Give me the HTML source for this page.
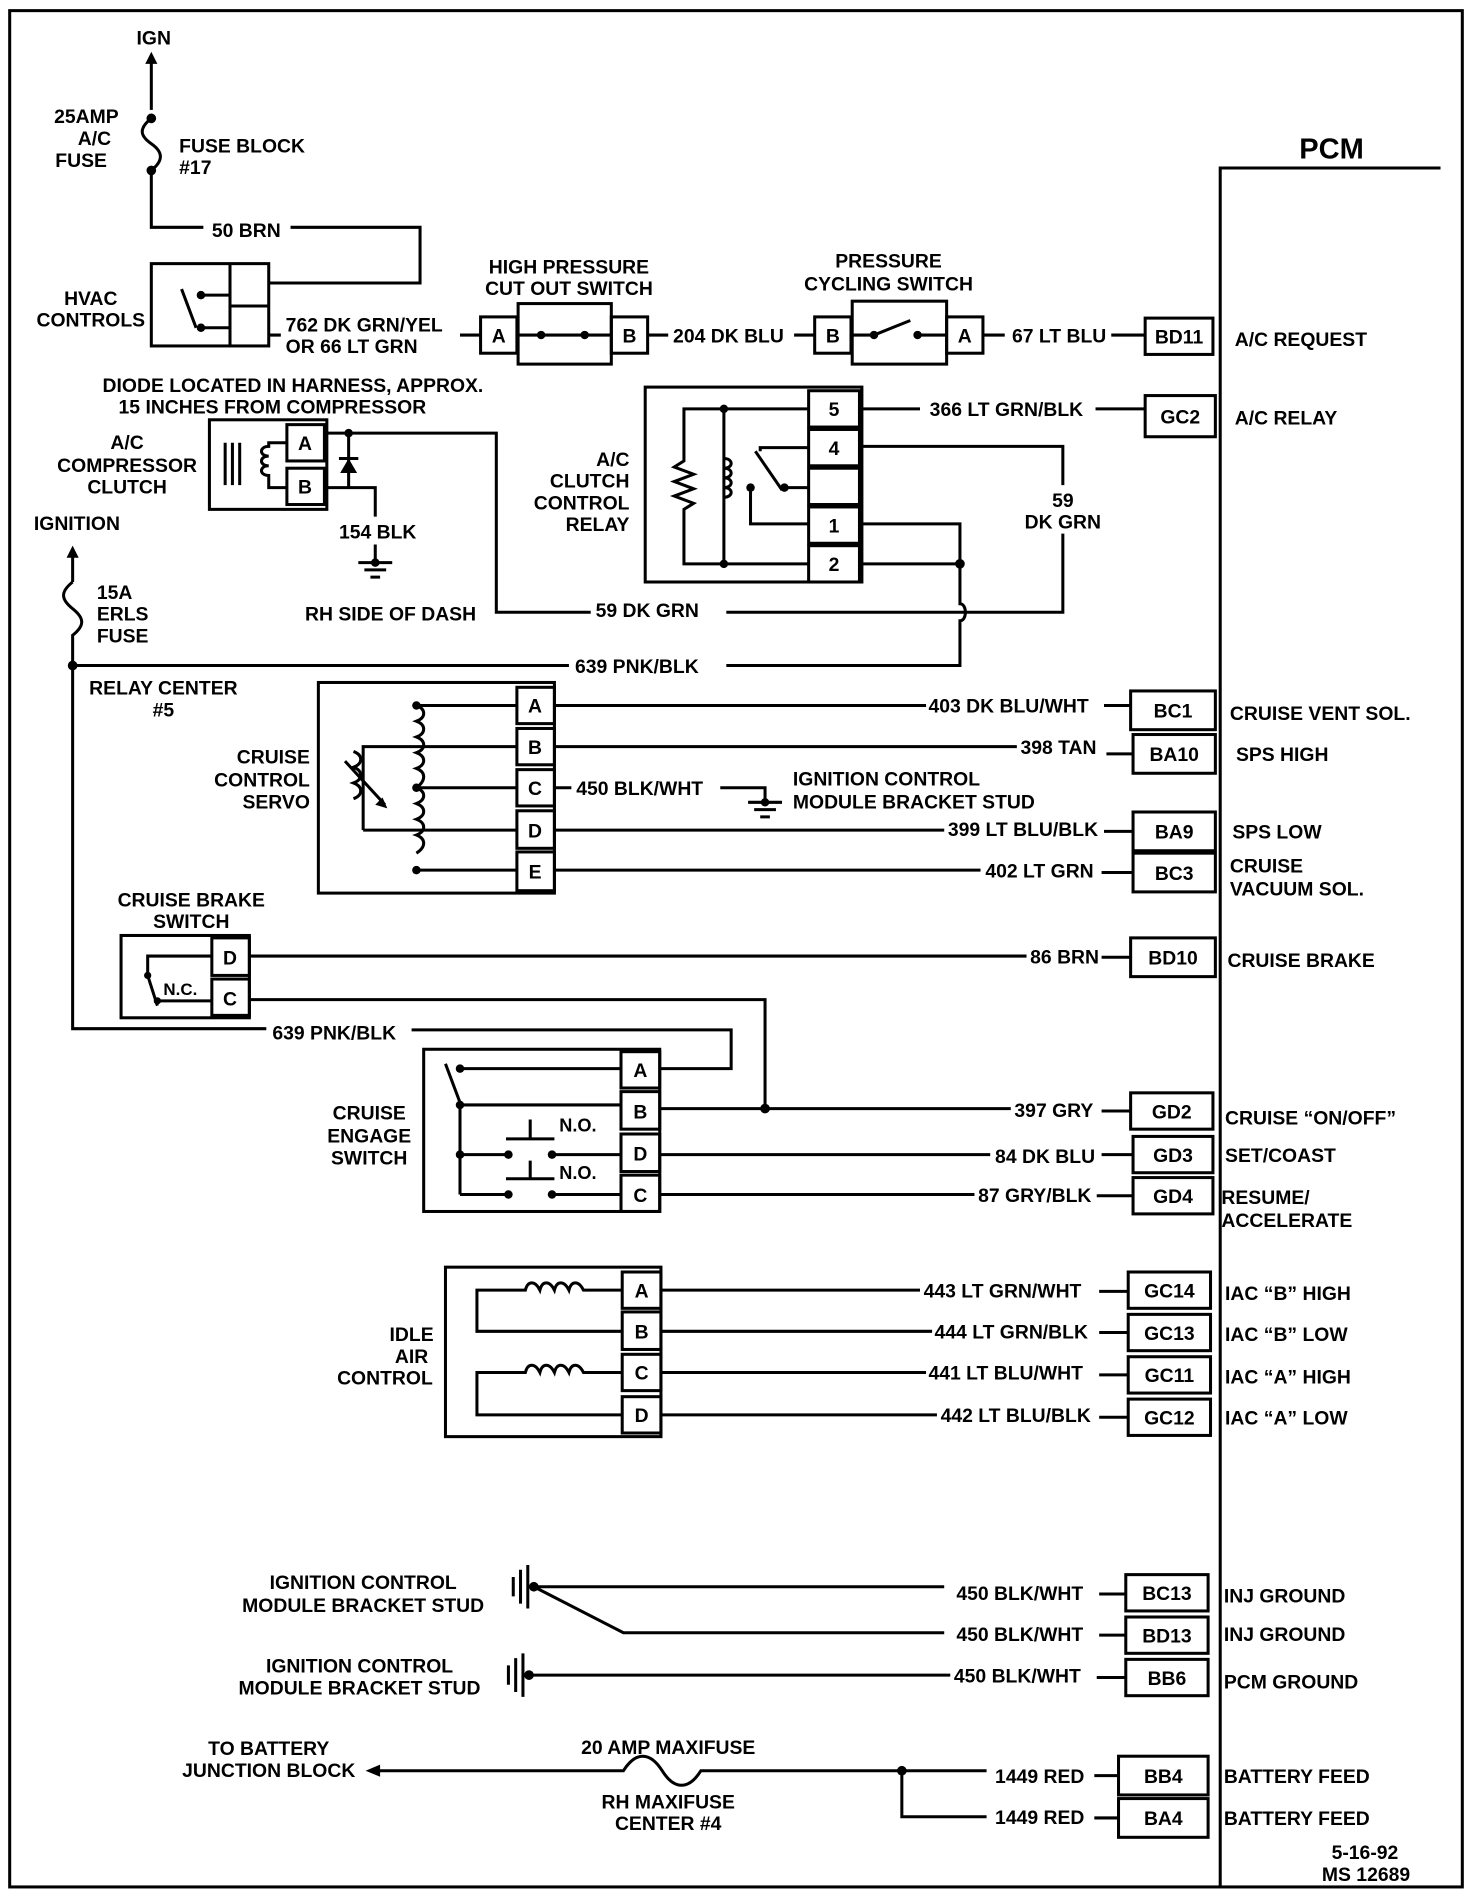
<!DOCTYPE html>
<html><head><meta charset="utf-8"><style>
html,body{margin:0;padding:0;background:#fff;}
svg{display:block;}
text{font-family:"Liberation Sans",sans-serif;font-weight:bold;font-size:16px;fill:#000;}
.m{text-anchor:middle}.e{text-anchor:end}
line,path,rect,polyline{stroke:#000;stroke-width:2.5;fill:none;}
.d{fill:#000;stroke:none}
</style></head><body>
<svg width="1472" height="1900" viewBox="0 0 1216 1568" xmlns="http://www.w3.org/2000/svg">
<rect x="8" y="8" width="1200" height="1550" stroke-width="3"/>
<!-- PCM -->
<path d="M1008 1558 V138 H1190" stroke-width="3"/>
<text x="1100" y="130" class="m" style="font-size:24px">PCM</text>

<!-- top fuse -->
<text x="127" y="36" class="m">IGN</text>
<path d="M125 90 V48"/><path class="d" d="M125 42 l-5 10 h10z"/>
<circle class="d" cx="125" cy="97" r="4"/><circle class="d" cx="125" cy="140" r="4"/>
<path d="M125 97 c-10 8 -10 14 0 21 c10 7 10 14 0 22"/>
<text x="98" y="101" class="e">25AMP</text><text x="78" y="119" class="m">A/C</text><text x="67" y="137" class="m">FUSE</text>
<text x="148" y="125">FUSE BLOCK</text><text x="148" y="143">#17</text>
<path d="M125 140 V187 H168"/><text x="175" y="195">50 BRN</text><path d="M240 187 H347 V233 H222"/>
<!-- HVAC -->
<rect x="125" y="217" width="97" height="68"/><path d="M190 217 V285 M190 252 H222"/>
<circle class="d" cx="166" cy="243" r="3.5"/><circle class="d" cx="166" cy="270" r="3.5"/>
<path d="M166 243 H190 M166 270 H190 M150 238 L162 270"/>
<text x="75" y="251" class="m">HVAC</text><text x="75" y="269" class="m">CONTROLS</text>
<text x="236" y="273">762 DK GRN/YEL</text><text x="236" y="291">OR 66 LT GRN</text>
<path d="M222 276 H232 M380 276 H397"/>
<!-- high pressure -->
<text x="470" y="225" class="m">HIGH PRESSURE</text><text x="470" y="243" class="m">CUT OUT SWITCH</text>
<rect x="397" y="261" width="30" height="30"/><text x="412" y="282" class="m">A</text>
<rect x="428" y="250" width="77" height="50"/>
<rect x="505" y="261" width="30" height="30"/><text x="520" y="282" class="m">B</text>
<path d="M427 276 H447 M483 276 H505 M447 276 L483 276"/><circle class="d" cx="447" cy="276" r="3.5"/><circle class="d" cx="483" cy="276" r="3.5"/>
<path d="M535 276 H552"/><text x="556" y="282">204 DK BLU</text><path d="M656 276 H673"/>
<text x="734" y="220" class="m">PRESSURE</text><text x="734" y="239" class="m">CYCLING SWITCH</text>
<rect x="673" y="261" width="30" height="30"/><text x="688" y="282" class="m">B</text>
<rect x="704" y="248" width="78" height="52"/>
<rect x="782" y="261" width="30" height="30"/><text x="797" y="282" class="m">A</text>
<path d="M703 276 H722 L752 264 M758 276 H782"/><circle class="d" cx="722" cy="276" r="3.5"/><circle class="d" cx="758" cy="276" r="3.5"/>
<path d="M812 276 H830"/><text x="836" y="282">67 LT BLU</text><path d="M918 276 H946"/>
<rect x="946" y="262" width="56" height="30"/><text x="974" y="283" class="m">BD11</text>
<text x="1020" y="285">A/C REQUEST</text>
<!-- compressor -->
<text x="242" y="323" class="m">DIODE LOCATED IN HARNESS, APPROX.</text><text x="225" y="341" class="m">15 INCHES FROM COMPRESSOR</text>
<rect x="173" y="346" width="97" height="74"/>
<rect x="237" y="350" width="31" height="30"/><text x="252" y="371" class="m">A</text>
<rect x="237" y="386" width="31" height="30"/><text x="252" y="407" class="m">B</text>
<path d="M186 365 V400 M192 365 V400 M198 365 V400"/>
<path d="M237 365 H222 V368 c-8 0 -8 8 0 8 c-8 0 -8 8 0 8 c-8 0 -8 8 0 8 V402 H237"/>
<text x="105" y="370" class="m">A/C</text><text x="105" y="389" class="m">COMPRESSOR</text><text x="105" y="407" class="m">CLUTCH</text>
<path d="M268 357 H410 V505 H488"/><circle class="d" cx="288" cy="357" r="3.5"/>
<path d="M288 357 V402"/><path class="d" d="M288 378 l-7 12 h14z"/><path d="M280 378 H296"/>
<path d="M268 402 H310 V426 M310 449 V462"/>
<text x="280" y="444">154 BLK</text>
<path d="M296 464 H324 M301 470 H319 M306 476 H314"/><circle class="d" cx="310" cy="464" r="3.5"/>
<text x="252" y="512">RH SIDE OF DASH</text>
<text x="492" y="509">59 DK GRN</text><path d="M600 505 H878 V440"/>
<text x="878" y="418" class="m">59</text><text x="878" y="436" class="m">DK GRN</text>
<!-- relay -->
<rect x="533" y="319" width="179" height="161"/>
<rect x="668" y="322" width="42" height="30"/><text x="689" y="343" class="m">5</text>
<rect x="668" y="354" width="42" height="30"/><text x="689" y="375" class="m">4</text>
<rect x="668" y="386" width="42" height="30"/>
<rect x="668" y="418" width="42" height="30"/><text x="689" y="439" class="m">1</text>
<rect x="668" y="450" width="42" height="30"/><text x="689" y="471" class="m">2</text>
<path d="M668 337 H598 V465 H668 M598 337 H565 V380 l-8 5 l16 6 l-16 6 l16 6 l-16 6 l16 6 l-8 5 V465 H598"/>
<path d="M598 378 c8 0 8 8 0 8 c8 0 8 8 0 8 c8 0 8 8 0 8 c8 0 8 8 0 8"/>
<circle class="d" cx="598" cy="337" r="3.5"/><circle class="d" cx="598" cy="465" r="3.5"/>
<path d="M668 369 H628 V372 M624 372 L646 404 M668 402 H648 M620 402 V432 H668"/>
<circle class="d" cx="648" cy="402" r="3.5"/><circle class="d" cx="620" cy="402" r="3.5"/>
<text x="520" y="384" class="e">A/C</text><text x="520" y="402" class="e">CLUTCH</text><text x="520" y="420" class="e">CONTROL</text><text x="520" y="438" class="e">RELAY</text>
<path d="M712 337 H760"/><text x="768" y="343">366 LT GRN/BLK</text><path d="M905 337 H946"/>
<rect x="946" y="326" width="58" height="34"/><text x="975" y="349" class="m">GC2</text><text x="1020" y="350">A/C RELAY</text>
<path d="M712 368 H878 V400"/>
<path d="M712 432 H793 V465 M712 465 H793 V498 c6 0 6 14 0 14 V549 H600"/><circle class="d" cx="793" cy="465" r="4"/>
<!-- ignition -->
<text x="28" y="437">IGNITION</text>
<path d="M60 480 V458"/><path class="d" d="M60 450 l-5 10 h10z"/>
<path d="M60 480 c-10 8 -10 14 0 22 c10 8 10 14 0 22 V849 H220"/><circle class="d" cx="60" cy="549" r="4"/>
<text x="80" y="494">15A</text><text x="80" y="512">ERLS</text><text x="80" y="530">FUSE</text>
<path d="M60 549 H470"/><text x="475" y="555">639 PNK/BLK</text>
<text x="135" y="573" class="m">RELAY CENTER</text><text x="135" y="591" class="m">#5</text>
<!-- servo -->
<rect x="263" y="563" width="195" height="174"/>
<rect x="427" y="567" width="31" height="30"/><text x="442" y="588" class="m">A</text>
<rect x="427" y="601" width="31" height="30"/><text x="442" y="622" class="m">B</text>
<rect x="427" y="635" width="31" height="30"/><text x="442" y="656" class="m">C</text>
<rect x="427" y="669" width="31" height="31"/><text x="442" y="691" class="m">D</text>
<rect x="427" y="703" width="31" height="32"/><text x="442" y="725" class="m">E</text>
<path d="M427 582 H344 M427 616 H300 V685 M427 650 H344 M427 685 H300 M427 718 H344"/>
<path d="M344 582 c8 3 8 10 0 13 c8 3 8 10 0 13 c8 3 8 10 0 13 c8 3 8 10 0 13 c8 3 8 10 0 16 c8 3 8 10 0 13 c8 3 8 10 0 13 c8 3 8 10 0 13 c8 3 8 10 0 15"/>
<circle class="d" cx="344" cy="582" r="3.5"/><circle class="d" cx="344" cy="650" r="3.5"/><circle class="d" cx="344" cy="718" r="3.5"/>
<path d="M292 620 c8 3 8 10 0 13 c8 3 8 10 0 13 c8 3 8 10 0 13 M285 628 L318 664"/><path class="d" d="M320 667 l-10 -3 l6 -6z"/>
<text x="256" y="630" class="e">CRUISE</text><text x="256" y="649" class="e">CONTROL</text><text x="256" y="667" class="e">SERVO</text>
<path d="M458 582 H765"/><text x="767" y="588">403 DK BLU/WHT</text><path d="M912 582 H934"/>
<rect x="934" y="570" width="70" height="32"/><text x="969" y="592" class="m">BC1</text><text x="1016" y="594">CRUISE  VENT  SOL.</text>
<path d="M458 616 H840"/><text x="843" y="622">398 TAN</text><path d="M914 622 H936"/>
<rect x="936" y="606" width="68" height="32"/><text x="970" y="628" class="m">BA10</text><text x="1021" y="628">SPS  HIGH</text>
<path d="M458 650 H472"/><text x="476" y="656">450 BLK/WHT</text><path d="M595 650 H632 V662"/>
<path d="M618 662 H646 M623 668 H641 M628 674 H636"/><circle class="d" cx="632" cy="662" r="3.5"/>
<text x="655" y="648">IGNITION CONTROL</text><text x="655" y="667">MODULE BRACKET STUD</text>
<path d="M458 685 H780"/><text x="783" y="690">399 LT BLU/BLK</text><path d="M912 686 H936"/>
<rect x="936" y="670" width="68" height="32"/><text x="970" y="692" class="m">BA9</text><text x="1018" y="692">SPS  LOW</text>
<path d="M458 718 H810"/><text x="814" y="724">402 LT GRN</text><path d="M910 720 H936"/>
<rect x="936" y="704" width="68" height="32"/><text x="970" y="726" class="m">BC3</text><text x="1016" y="720">CRUISE</text><text x="1016" y="739">VACUUM SOL.</text>
<!-- brake switch -->
<text x="158" y="748" class="m">CRUISE BRAKE</text><text x="158" y="766" class="m">SWITCH</text>
<rect x="100" y="772" width="106" height="68"/>
<rect x="175" y="774" width="31" height="31"/><text x="190" y="796" class="m">D</text>
<rect x="175" y="808" width="31" height="30"/><text x="190" y="830" class="m">C</text>
<path d="M175 789 H122 V805 M122 805 L130 830 M130 826 H175"/><circle class="d" cx="122" cy="805" r="3"/><circle class="d" cx="130" cy="826" r="3"/>
<text x="135" y="821" style="font-size:14px">N.C.</text>
<path d="M206 789 H848"/><text x="851" y="795">86 BRN</text><path d="M910 790 H934"/>
<rect x="934" y="774" width="70" height="32"/><text x="969" y="796" class="m">BD10</text><text x="1014" y="798">CRUISE BRAKE</text>
<path d="M206 825 H632 V915"/><circle class="d" cx="632" cy="915" r="4"/>
<text x="225" y="858">639 PNK/BLK</text><path d="M340 850 H604 V882 H545"/>
<!-- engage switch -->
<rect x="350" y="866" width="195" height="134"/>
<rect x="513" y="868" width="32" height="30"/><text x="529" y="889" class="m">A</text>
<rect x="513" y="901" width="32" height="31"/><text x="529" y="923" class="m">B</text>
<rect x="513" y="936" width="32" height="31"/><text x="529" y="958" class="m">D</text>
<rect x="513" y="970" width="32" height="30"/><text x="529" y="992" class="m">C</text>
<path d="M513 882 H380 M368 878 L380 910 M380 912 H513 M380 912 V986 M380 953 H420 M456 953 H513 M380 986 H420 M456 986 H513"/>
<circle class="d" cx="380" cy="882" r="3.5"/><circle class="d" cx="380" cy="912" r="3.5"/><circle class="d" cx="380" cy="953" r="3.5"/>
<circle class="d" cx="420" cy="953" r="3.5"/><circle class="d" cx="456" cy="953" r="3.5"/><circle class="d" cx="420" cy="986" r="3.5"/><circle class="d" cx="456" cy="986" r="3.5"/>
<path d="M418 940 H458 M438 940 V924 M418 973 H458 M438 973 V958"/>
<text x="462" y="934" style="font-size:15px">N.O.</text><text x="462" y="973" style="font-size:15px">N.O.</text>
<text x="305" y="924" class="m">CRUISE</text><text x="305" y="943" class="m">ENGAGE</text><text x="305" y="961" class="m">SWITCH</text>
<path d="M545 915 H835"/><text x="838" y="922">397 GRY</text><path d="M910 917 H934"/>
<rect x="934" y="902" width="68" height="30"/><text x="968" y="923" class="m">GD2</text><text x="1012" y="928">CRUISE “ON/OFF”</text>
<path d="M545 953 H818"/><text x="822" y="960">84 DK BLU</text><path d="M910 953 H936"/>
<rect x="936" y="938" width="66" height="30"/><text x="969" y="959" class="m">GD3</text><text x="1012" y="959">SET/COAST</text>
<path d="M545 986 H805"/><text x="808" y="992">87 GRY/BLK</text><path d="M906 987 H936"/>
<rect x="936" y="972" width="66" height="30"/><text x="969" y="993" class="m">GD4</text><text x="1009" y="994">RESUME/</text><text x="1009" y="1013">ACCELERATE</text>
<!-- IAC -->
<rect x="368" y="1046" width="178" height="140"/>
<rect x="514" y="1050" width="32" height="30"/><text x="530" y="1071" class="m">A</text>
<rect x="514" y="1083" width="32" height="31"/><text x="530" y="1105" class="m">B</text>
<rect x="514" y="1118" width="32" height="30"/><text x="530" y="1139" class="m">C</text>
<rect x="514" y="1153" width="32" height="30"/><text x="530" y="1174" class="m">D</text>
<path d="M514 1065 H482 c-4 -8 -10 -8 -12 0 c-4 -8 -10 -8 -12 0 c-4 -8 -10 -8 -12 0 c-4 -8 -10 -8 -12 0 H394 V1099 H514"/>
<path d="M514 1133 H482 c-4 -8 -10 -8 -12 0 c-4 -8 -10 -8 -12 0 c-4 -8 -10 -8 -12 0 c-4 -8 -10 -8 -12 0 H394 V1168 H514"/>
<text x="340" y="1107" class="m">IDLE</text><text x="340" y="1125" class="m">AIR</text><text x="318" y="1143" class="m">CONTROL</text>
<path d="M546 1065 H760"/><text x="763" y="1071">443 LT GRN/WHT</text><path d="M908 1066 H932"/>
<rect x="932" y="1050" width="68" height="30"/><text x="966" y="1071" class="m">GC14</text><text x="1012" y="1073">IAC “B” HIGH</text>
<path d="M546 1099 H770"/><text x="772" y="1105">444 LT GRN/BLK</text><path d="M908 1100 H932"/>
<rect x="932" y="1085" width="68" height="30"/><text x="966" y="1106" class="m">GC13</text><text x="1012" y="1107">IAC “B” LOW</text>
<path d="M546 1133 H765"/><text x="767" y="1139">441 LT BLU/WHT</text><path d="M908 1135 H932"/>
<rect x="932" y="1120" width="68" height="30"/><text x="966" y="1141" class="m">GC11</text><text x="1012" y="1142">IAC “A” HIGH</text>
<path d="M546 1168 H774"/><text x="777" y="1174">442 LT BLU/BLK</text><path d="M908 1170 H932"/>
<rect x="932" y="1155" width="68" height="30"/><text x="966" y="1176" class="m">GC12</text><text x="1012" y="1176">IAC “A” LOW</text>
<!-- grounds -->
<text x="300" y="1312" class="m">IGNITION CONTROL</text><text x="300" y="1331" class="m">MODULE BRACKET STUD</text>
<path d="M424 1302 V1318 M430 1296 V1324 M436 1292 V1328"/><circle class="d" cx="441" cy="1310" r="4"/>
<path d="M436 1310 H780 M441 1310 L515 1348 H780"/>
<text x="790" y="1321">450 BLK/WHT</text><path d="M908 1316 H930"/>
<rect x="930" y="1300" width="68" height="30"/><text x="964" y="1321" class="m">BC13</text><text x="1011" y="1323">INJ GROUND</text>
<text x="790" y="1355">450 BLK/WHT</text><path d="M908 1350 H930"/>
<rect x="930" y="1335" width="68" height="30"/><text x="964" y="1356" class="m">BD13</text><text x="1011" y="1355">INJ GROUND</text>
<text x="297" y="1381" class="m">IGNITION CONTROL</text><text x="297" y="1399" class="m">MODULE BRACKET STUD</text>
<path d="M420 1375 V1391 M426 1369 V1397 M432 1365 V1401"/><circle class="d" cx="437" cy="1383" r="4"/>
<path d="M432 1383 H785"/><text x="788" y="1389">450 BLK/WHT</text><path d="M906 1385 H930"/>
<rect x="930" y="1370" width="68" height="30"/><text x="964" y="1391" class="m">BB6</text><text x="1011" y="1394">PCM GROUND</text>
<!-- battery -->
<text x="222" y="1449" class="m">TO BATTERY</text><text x="222" y="1467" class="m">JUNCTION BLOCK</text>
<path class="d" d="M302 1462 l12 -5 v10z"/>
<path d="M310 1462 H515 c10 -16 22 -16 32 0 c10 16 22 16 32 0 H815"/><circle class="d" cx="745" cy="1462" r="4"/>
<text x="552" y="1448" class="m">20 AMP MAXIFUSE</text><text x="552" y="1493" class="m">RH MAXIFUSE</text><text x="552" y="1511" class="m">CENTER #4</text>
<text x="822" y="1472">1449 RED</text><path d="M904 1466 H924"/>
<rect x="924" y="1450" width="74" height="32"/><text x="961" y="1472" class="m">BB4</text><text x="1011" y="1472">BATTERY FEED</text>
<path d="M745 1462 V1500 H815"/><text x="822" y="1506">1449 RED</text><path d="M904 1501 H924"/>
<rect x="924" y="1485" width="74" height="32"/><text x="961" y="1507" class="m">BA4</text><text x="1011" y="1507">BATTERY FEED</text>
<text x="1100" y="1535">5-16-92</text><text x="1092" y="1553">MS 12689</text>
</svg>
</body></html>
